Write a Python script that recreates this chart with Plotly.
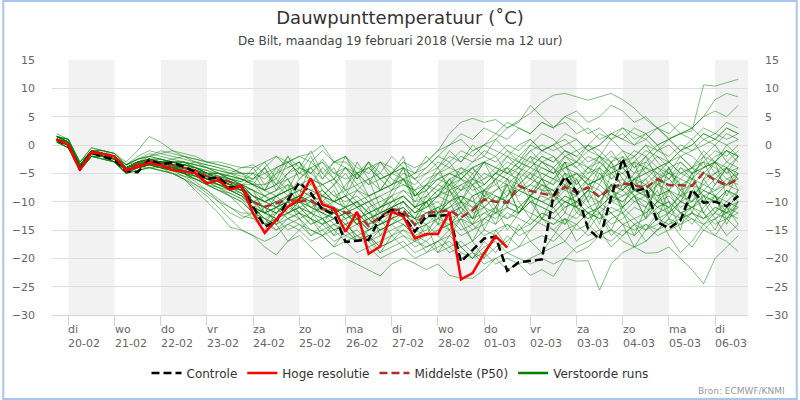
import plotly.graph_objects as go
import pandas as pd

# ---------------- data ----------------
start_time = "2018-02-19 18:00"
n_steps = 60
times = pd.date_range(start_time, periods=n_steps, freq="6h")

controle = [0.9, -0.1, -4.2, -1.3, -2.1, -2.6, -4.6, -4.8, -2.6, -3.4, -3.1, -3.8, -4.8, -6.0, -5.7, -7.5, -7.4,
            -11.0, -14.4, -13.5, -9.7, -6.6, -8.5, -11.4, -12.2, -17.1, -16.9, -16.7, -12.9, -11.4, -12.4,
            -15.3, -12.5, -12.5, -12.4, -20.6, -18.5, -16.5, -16.2, -22.2, -20.7, -20.5, -20.2,
            -9.0, -5.6, -8.2, -14.8, -16.6, -9.2, -2.4, -8.2, -7.6, -13.6, -14.7, -13.3, -7.9, -10.2, -10.0, -10.8, -9.0]

hoge_resolutie = [1.0, 0.0, -4.4, -1.3, -1.6, -2.0, -4.5, -3.8, -3.2, -3.6, -4.4, -4.7, -5.0, -6.8, -6.2, -7.9, -7.2,
                  -12.1, -15.5, -13.2, -10.9, -9.6, -5.9, -10.5, -11.2, -15.3, -11.8, -19.2, -17.9, -11.8, -12.6,
                  -16.5, -15.7, -15.7, -11.8, -23.7, -22.6, -19.1, -16.1, -18.1]

middelste = [1.0, 0.0, -4.2, -1.2, -1.5, -2.2, -4.3, -3.3, -2.8, -3.3, -3.6, -4.0, -4.5, -5.5, -5.8, -6.5, -7.5,
             -10.0, -10.9, -10.3, -9.6, -10.0, -9.7, -11.35, -11.5, -11.9, -12.1, -14.3, -12.6, -11.4, -11.5,
             -14.1, -12.0, -11.8, -11.5, -12.8, -11.5, -9.6, -10.0, -10.2, -7.2, -8.1, -8.5,
             -9.0, -7.4, -8.4, -7.5, -9.2, -7.6, -6.8, -7.1, -7.6, -6.0, -7.1, -7.1, -7.2, -4.9, -6.2, -7.1, -5.9]

verstoorde_runs = [
    [1.5,0.5,-3.5,-1,-1.5,-2,-4,-3,-2.5] + [-3,-3,-3.5,-4,-5,-5,-6,-7] + [-6,-4,-7,-3,-5,-2,-6,-4,-8,-3,-6,-5,-2,-4] + [-9,-8,-6,-5,-4,-5,-3,-4,-5,-3,-4,-2] + [-3,-1,-2,-4,-3,-5,-4,-6,-5,-4,-6,-3,-5,-4,-3,-5,-2],
    [1,0,-4,-1.5,-2,-2.5,-4.5,-4,-3.5] + [-4,-4.5,-5,-6,-7,-8,-9,-10] + [-12,-14,-13,-11,-10,-12,-13,-15,-14,-16,-17,-15,-14,-13] + [-15,-14,-16,-18,-17,-19,-20,-18,-17,-15,-14,-12] + [-13,-11,-10,-12,-11,-9,-10,-8,-9,-11,-10,-12,-11,-10,-13,-12,-11],
    [2,1,-3,-0.5,-1,-1.5,-3.5,-2.5,-2] + [-2.5,-3,-3,-3.5,-4,-5,-5.5,-6] + [-7,-8,-9,-8,-7,-8,-9,-10,-9,-8,-9,-8,-7,-6] + [-5,-3,-1,2,4,4.7,4,4.5,3,4.3,5.6,7.5] + [8.8,9.1,8.5,7.9,8.5,9.1,8,6.5,4.5,3,1.2,2,1,3,2,1,2],
    [1,0.5,-3.5,-1,-1.5,-2,-4,-3.5,-3] + [-3,-3.5,-4,-4.5,-5,-6,-6.5,-7] + [-9,-10,-9,-8,-7,-6,-7,-9,-10,-9,-11,-10,-9,-8] + [-9,-7,-6,-5,-6,-4,-3,-4,-2,-3,-1,0] + [-1,0,1,-1,0,2,1,0,2,3,1,2,2.5,10.6,10.4,11,11.6],
    [0.5,-0.5,-4.5,-2,-2.5,-3,-5,-4.5,-4] + [-4.5,-5,-6,-7.5,-9,-11,-13,-15] + [-16,-17,-16,-14,-15,-17,-16,-18,-17,-19,-18,-20,-19,-18] + [-20,-19,-18,-17,-19,-20,-18,-17,-19,-20,-21,-20] + [-21,-20,-20.5,-20.4,-25.6,-21,-19,-18,-17,-15,-14,-13,-12,-13,-11,-12,-10],
    [1,0,-4,-1.5,-1.5,-2.5,-4.5,-3.5,-3] + [-3.5,-4,-4.5,-5.5,-6.5,-7,-8,-9] + [-11,-12,-11,-10,-12,-13,-14,-13,-15,-14,-16,-15,-14,-16] + [-17,-16,-15,-14,-13,-15,-14,-12,-13,-11,-12,-13] + [-14,-13,-15,-14,-16,-15,-17,-18,-19.1,-19,-18,-20,-22,-24.5,-20,-18,-16],
    [1.5,0.5,-4,-1,-2,-2,-4,-3,-3] + [-3,-3.5,-4,-5,-6,-6,-7,-8] + [-10,-11,-12,-10,-9,-10,-11,-12,-11,-13,-12,-14,-13,-12] + [-13,-12,-11,-10,-9,-10,-8,-9,-10,-11,-9,-10] + [-9,-10,-11,-12,-13,-12,-14,-15,-14,-16,-15,-14,-13,-15,-16,-17,-18.8],
    [0.5,0,-4.5,-2,-2,-3,-5,-4,-4] + [-4,-5,-6,-8,-10,-12,-14.5,-15] + [-16,-18,-19.4,-17,-16,-18,-20,-19,-20,-21,-22,-23.1,-21,-20] + [-20.9,-22,-21,-23,-23.5,-23.5,-22,-20,-19,-18,-17,-16] + [-17,-15,-14,-16,-15,-13,-12,-14,-13,-11,-12,-10,-11,-9,-10,-8,-9],
    [1,0,-4,-1.5,-2,-2.5,-4.5,-4,-3.5] + [-3.5,-4,-5,-6,-7,-7.5,-8.5,-9.5] + [-11,-13,-14,-13,-12,-13,-15,-14,-16,-17,-16,-18,-17,-16] + [-18,-17,-19,-18,-20,-19,-21,-20,-22,-21,-23,-22] + [-23.2,-20,-18,-17,-16,-15,-16,-14,-15,-13,-14,-12,-13,-14,-12,-13,-11],
    [1.5,0.5,-3.5,-1,-1.5,-2,-4,-3,-2.5] + [-2.5,-3,-3,-3.5,-4,-4.5,-5,-5] + [-6,-5,-4,-3,-2,-1.5,0,-3,-4,-5,-4,-6,-5,-4] + [-5,-4,-2,-3,-1,-2,0,-1,-2,0,1,-1] + [0,-2,-1,-3,-2,-4,-3,-2,-5,-4,-3,-5,-4,-2,-3,-1,-2],
    [1,0,-4,-1,-2,-2.5,-4,-3.5,-3] + [-3.5,-3.5,-4,-4.5,-5.5,-6,-6.5,-7.5] + [-9,-11,-10,-9,-8,-9,-10,-11,-12,-11,-13,-12,-11,-10] + [-12,-11,-10,-12,-11,-9,-8,-10,-9,-7,-8,-6] + [-7,-3,-9,-6,-11,-5,-2,-8,-6,-10,-4,-7,-12,-6,-3,-9,-5],
    [1,0.5,-3.5,-1.5,-1.5,-2.5,-4.5,-3.5,-3] + [-3.5,-4,-4,-5,-6,-6.5,-7.5,-8] + [-10,-12,-11,-12,-10,-11,-12,-13,-12,-14,-13,-15,-14,-12] + [-14,-13,-12,-10,-9,-11,-10,-8,-7,-8,-6,-7] + [-8,-6,-5,-7,-6,-8,-7,-9,-8,-6,-7,-5,-6,-7,-5,-4,-6],
    [1.5,1,-3,-1,-1,-1.5,-3,-1,1.5] + [0.5,-1,-2,-2.5,-3,-3.5,-4,-5] + [-7,-8,-7,-6,-5,-6,-7,-6,-8,-7,-9,-8,-7,-5] + [-6,-4,-2,0,2,1,3,2,4,3,2,4] + [3,5,4,2,3,1,2,0,1,-1,0,-2,-1,0,1,3,2],
    [0.5,-0.5,-4.5,-2,-2.5,-3,-5,-4,-3.5] + [-4,-4.5,-5,-6,-7,-8,-9,-10] + [-12,-13,-14,-12,-11,-13,-14,-16,-15,-17,-16,-18,-17,-15] + [-16,-15,-13,-14,-12,-13,-11,-12,-10,-11,-9,-10] + [-11,-9,-10,-8,-9,-7,-8,-10,-9,-7,-8,-9,-7,-8,-6,-7,-5],
    [1,0,-4,-1,-1.5,-2,-4,-3.5,-3] + [-3,-3.5,-4,-4,-5,-5.5,-6,-6.5] + [-5,-8,-4,-6,-9,-3,-5,-7,-4,-6,-3,-8,-5,-6] + [-10,-9,-7,-8,-6,-7,-5,-6,-4,-5,-3,-4] + [-5,-3,-4,-2,-3,-5,-4,-3,-1,-2,-4,-3,-5,-4,-2,-1,-3],
    [1,0,-4,-1.5,-2,-2.5,-4.5,-3.5,-3] + [-3.5,-4,-4.5,-5,-6,-7,-7.5,-8.5] + [-10,-11,-10,-11,-9,-10,-11,-12,-11,-13,-12,-11,-10,-9] + [-11,-10,-9,-8,-7,-9,-8,-6,-7,-5,-6,-4] + [-5,-4,-3,-4,-2,-3,-1,-2,0,-1,1,2,3,5,8,9.1,8.5],
    [1.5,0.5,-3.5,-1,-1.5,-2,-3.5,-3,-2.5] + [-3,-3,-3.5,-4,-4.5,-5.5,-6,-7] + [-8,-9,-8,-7,-8,-9,-8,-10,-9,-11,-10,-9,-8,-7] + [-8,-7,-5,-4,-5,-3,-2,-3,-1,-2,0,-1] + [0,1,-1,0,2,1,3,2,1,3,2,4,3,5,6,5,7],
    [1,0,-4,-1,-1.5,-2.5,-4,-3.5,-3] + [-3,-3.5,-4,-4.5,-5,-6,-7,-7.5] + [-9,-10,-9,-8,-7,-8,-7,-9,-8,-10,-9,-8,-7,-6] + [-7,-5,-4,-2,-3,-1,0,1,3,4,7,5] + [3.2,4,2,3,1,2,3,1,2,0,1,-1,0,2,1,0,1],
    [0.5,0,-4.5,-1.5,-2,-3,-5,-4,-3.5] + [-4,-4,-5,-5.5,-6.5,-7.5,-8,-9] + [-11,-12,-13,-11,-12,-14,-13,-15,-14,-16,-15,-14,-13,-12] + [-13,-14,-12,-11,-10,-12,-11,-9,-10,-8,-9,-7] + [-8,-12,-6,-10,-14,-7,-11,-9,-13,-6,-10,-15,-8,-12,-9,-14,-10],
    [1,0.5,-4,-1,-2,-2,-4.5,-3.5,-3] + [-3,-3.5,-4,-5,-5.5,-6.5,-7,-8] + [-10,-12,-13,-12,-11,-12,-13,-12,-14,-13,-15,-14,-12,-11] + [-13,-9,-12,-7,-10,-13,-8,-6,-11,-5,-9,-7] + [-9,-7,-8,-6,-7,-9,-8,-6,-5,-7,-6,-8,-7,-5,-6,-4,-5],
    [1.5,0.5,-4,-1.5,-1.5,-2,-4,-3,-3] + [-3,-3,-3.5,-4,-5,-6,-6,-7] + [-8,-9,-10,-9,-8,-7,-9,-10,-11,-10,-12,-11,-10,-9] + [-11,-12,-11,-13,-12,-14,-13,-12,-11,-12,-10,-11] + [-12,-10,-11,-9,-10,-12,-11,-13,-12,-10,-11,-9,-10,-8,-9,-7,-8],
    [1,0,-4,-1.5,-2,-2.5,-4.5,-4,-3] + [-3.5,-4,-4.5,-5,-6,-7,-8,-8.5] + [-11,-13,-12,-10,-9,-11,-12,-14,-13,-12,-14,-13,-11,-10] + [-12,-10,-8,-7,-6,-8,-7,-5,-6,-4,-5,-3] + [-4,-6,-5,-7,-6,-4,-5,-3,-4,-6,-5,-7,-6,-4,-3,-5,-4],
    [1,0,-4,-1,-1.5,-2,-4,-3.5,-2.5] + [-3,-3.5,-3.5,-4,-5,-5.5,-6.5,-7] + [-9,-10,-11,-9,-10,-9,-8,-10,-11,-10,-12,-13,-12,-11] + [-13,-12,-14,-13,-15,-14,-16,-15,-14,-16,-15,-13] + [-14,-12,-13,-11,-12,-10,-11,-9,-10,-12,-11,-9,-8,-10,-9,-11,-10],
    [1.5,1,-3.5,-1,-1,-1.5,-3.5,-2.5,-2] + [-1.5,-1,-1.5,-2,-3,-3.5,-4,-5] + [-5,-3,-6,-2,-4,-1,-5,-3,-2,-6,-4,-3,-5,-2] + [-9,-7,-8,-6,-5,-7,-6,-4,-5,-3,-4,-2] + [-3,-1,-2,0,-1,-3,-2,-4,-3,-1,-2,0,-1,1,0,2,1],
    [0.5,-0.5,-4.5,-2,-2,-3,-4.5,-4,-3.5] + [-4,-4.5,-5,-6,-7,-8,-8.5,-9.5] + [-12,-14,-15,-13,-14,-15,-16,-14,-15,-17,-16,-19,-18,-17] + [-19,-18,-17,-16,-18,-17,-15,-16,-14,-15,-13,-14] + [-15,-13,-14,-12,-13,-11,-12,-10,-11,-13,-12,-10,-11,-9,-10,-8,-9],
    [1,0,-4,-1.5,-1.5,-2.5,-4,-3.5,-3] + [-3.5,-3.5,-4,-4.5,-5.5,-6,-7,-7.5] + [-9,-10,-11,-10,-9,-10,-9,-11,-12,-11,-13,-12,-11,-9] + [-11,-10,-8,-9,-7,-6,-8,-7,-5,-6,-4,-5] + [-6,-7,-5,-6,-4,-6,-5,-7,-6,-4,-5,-6,-4,-5,-3,-4,-2],
    [1,0.5,-3.5,-1.5,-2,-2,-4.5,-3.5,-3.5] + [-3.5,-4,-4.5,-5.5,-6,-7,-7.5,-8] + [-10,-11,-12,-11,-10,-11,-12,-11,-13,-12,-14,-13,-12,-11] + [-13,-10,-14,-8,-12,-9,-15,-11,-7,-12,-9,-6] + [-9,-11,-10,-8,-9,-7,-8,-6,-7,-9,-8,-10,-9,-7,-8,-6,-7],
    [1.5,0.5,-3.5,-1,-1.5,-2,-4,-3,-2.5] + [-2.5,-3,-3,-3.5,-4,-5,-5.5,-6] + [-7,-8,-7,-5,-4,-5,-3,-5,-6,-5,-7,-6,-5,-4] + [-6,-5,-3,-4,-2,-3,-1,-2,0,-1,1,-1] + [0,2,1,-1,0,2,1,3,2,0,1,-1,0,2,1,3,2],
    [1,0,-4.5,-1.5,-2,-3,-4.5,-4,-3.5] + [-4,-4,-5,-5.5,-6.5,-7,-8,-9] + [-11,-12,-11,-13,-12,-14,-13,-12,-14,-13,-15,-14,-13,-14] + [-15,-16,-14,-15,-13,-14,-12,-13,-11,-12,-10,-11] + [-12,-10,-11,-13,-12,-14,-13,-11,-12,-10,-11,-13,-12,-14,-13,-11,-12],
    [1,0,-4,-1,-2,-2.5,-4,-3.5,-3] + [-3,-3.5,-4,-4.5,-5.5,-6,-6.5,-7] + [-8,-10,-9,-8,-10,-9,-11,-10,-9,-11,-10,-12,-11,-10] + [-12,-10,-9,-7,-8,-6,-7,-5,-6,-8,-7,-5] + [-6,-4,-5,-7,-6,-5,-7,-6,-4,-5,-3,-5,-4,-6,-5,-3,-4],
    [1,0.5,-4,-1.5,-1.5,-2,-4,-3.5,-3] + [-3.5,-4,-4,-5,-6,-6,-7,-8] + [-10,-11,-12,-10,-11,-10,-12,-13,-12,-14,-13,-12,-11,-12] + [-14,-13,-11,-12,-10,-11,-9,-10,-8,-9,-7,-8] + [-9,-5,-11,-8,-4,-10,-7,-3,-9,-6,-12,-8,-5,-10,-7,-4,-8],
    [0.5,-0.5,-4.5,-2,-2.5,-3,-5,-4.5,-4] + [-4.5,-5,-6,-7,-8,-10,-12,-13] + [-12,-14,-13,-15,-14,-16,-15,-17,-16,-15,-17,-16,-15,-14] + [-16,-17,-15,-14,-16,-15,-13,-14,-12,-13,-14,-12] + [-13,-14,-12,-13,-11,-12,-14,-13,-15,-14,-12,-13,-11,-12,-14,-13,-12],
    [1.5,0.5,-3.5,-1,-1.5,-2,-4,-3,-2.5] + [-3,-3,-3.5,-4,-5,-5,-6,-6.5] + [-4,-7,-5,-2,-6,-4,-3,-6,-2,-5,-7,-3,-4,-6] + [-9,-8,-6,-7,-5,-4,-6,-5,-3,-4,-2,-3] + [-4,-2,-3,-5,-4,-2,-3,-1,-2,-4,-3,-2,-4,-3,-1,-2,0],
    [1,0,-4,-1.5,-2,-2.5,-4.5,-3.5,-3] + [-3.5,-4,-4.5,-5,-6,-6.5,-7.5,-8] + [-10,-11,-10,-12,-11,-12,-14,-13,-12,-14,-13,-15,-14,-13] + [-15,-14,-13,-12,-11,-13,-12,-11,-13,-12,-10,-9] + [-10,-8,-9,-7,-8,-10,-9,-8,-7,-9,-8,-6,-7,-9,-8,-7,-6],
    [1,0,-4,-1,-1.5,-2.5,-4,-3,-3] + [-3,-3.5,-4,-4.5,-5,-6,-7,-7] + [-7,-4,-8,-5,-3,-7,-4,-6,-9,-5,-3,-6,-8,-4] + [-11,-9,-7,-5,-6,-4,-3,-5,-4,-2,-3,-1] + [-2,-4,-3,-1,-2,-4,-3,-5,-4,-2,-3,-1,-2,-4,-3,-1,-2],
    [1.5,0.5,-4,-1.5,-1.5,-2,-4.5,-3.5,-3] + [-3.5,-3.5,-4.5,-5,-6,-7,-7.5,-8.5] + [-11,-12,-13,-12,-13,-12,-11,-13,-12,-13,-15,-14,-13,-12] + [-14,-10,-13,-8,-11,-14,-9,-12,-6,-10,-13,-8] + [-8,-10,-9,-11,-10,-8,-9,-7,-8,-10,-9,-11,-10,-8,-9,-10,-8],
    [1,0,-4.5,-2,-2,-3,-5,-4,-3.5] + [-4,-4.5,-5.5,-7,-8.5,-10,-11,-12] + [-12,-13,-15,-14,-13,-15,-16,-15,-17,-16,-18,-17,-16,-15] + [-17,-18,-17,-19,-18,-20,-19,-21,-20,-21,-20,-19] + [-18,-17,-19,-18,-16,-17,-15,-16,-14,-15,-13,-14,-12,-13,-11,-12,-13],
    [1,0.5,-3.5,-1,-1.5,-2,-4,-3.5,-3] + [-3,-3.5,-4,-4.5,-5.5,-6,-6.5,-7.5] + [-9,-10,-9,-11,-10,-8,-9,-10,-9,-11,-10,-9,-11,-10] + [-12,-11,-9,-10,-8,-7,-9,-8,-6,-7,-5,-6] + [-7,-5,-6,-4,-5,-7,-6,-8,-7,-5,-6,-4,-5,-3,-4,-6,-5],
    [1.5,1,-3,-0.5,-1,-1.5,-3.5,-2.5,-2] + [-1,-1.5,-2,-2.5,-3,-3,-3.5,-4] + [-4,-3,-2,-3,-2,-3,-1,-3,-3,-5,-4,-6,-5,-3] + [-4,-3,-1,0,1,-1,0,2,1,3,2,4] + [3,5,6,4,5,7,6,4,5,3,4,2,3,1,2,4,3],
    [1,0,-4,-1.5,-2,-2.5,-4,-3.5,-3] + [-3.5,-4,-4,-5,-5.5,-6.5,-7,-8] + [-10,-9,-11,-10,-9,-11,-10,-12,-11,-10,-12,-11,-10,-9] + [-11,-10,-12,-11,-9,-10,-11,-9,-10,-8,-9,-10] + [-11,-9,-10,-12,-11,-9,-10,-8,-9,-11,-10,-12,-11,-13,-12,-10,-11],
    [1,0.5,-3.5,-1,-1.5,-2,-3.5,-2,-1] + [-1.5,-2,-2.5,-3,-3.5,-4,-4.5,-5] + [-5,-6,-4,-3,-5,-4,-6,-3,-2,-4,-5,-3,-6,-7] + [-8,-6,-5,-7,-4,-6,-3,-2,-5,-4,-1,-3] + [-2,-5,-7,-4,-6,-3,-8,-5,-2,-6,-4,-9,-5,-3,-7,-4,-6],
    [1,0,-4,-1.5,-2,-2.5,-4,-3,-2.5] + [-3,-2.5,-3,-4,-4.5,-5,-5.5,-6] + [-6.5,-8,-5,-4,-3,-6,-9,-7,-5,-8,-6,-11,-9,-6] + [-8,-11,-9,-6,-10,-13,-8,-11,-7,-12,-9,-6] + [-10,-7,-12,-9,-5,-8,-11,-6,-9,-13,-8,-10,-6,-9,-12,-8,-10],
    [1.5,0.5,-4,-1,-1.5,-2.5,-4.5,-3.5,-3] + [-3,-3.5,-5,-6.5,-8,-9.5,-11,-12.5] + [-13,-15,-12,-10,-13,-16,-14,-11,-13,-17,-15,-13,-16,-18] + [-17,-14,-19,-16,-13,-17,-20,-15,-18,-14,-17,-19] + [-16,-13,-17,-15,-12,-16,-14,-18,-15,-12,-16,-19,-17,-14,-16,-13,-15],
    [1,0,-4,-1.5,-2,-2,-4,-3,-2] + [-2.5,-3,-3,-4,-5,-6,-5,-4] + [-3.5,-5,-7,-9,-6,-4,-8,-10,-7,-5,-9,-12,-8,-6] + [-9,-7,-4,-8,-10,-6,-3,-7,-9,-5,-2,-6] + [-4,-8,-6,-10,-7,-3,-6,-9,-11,-7,-4,-8,-10,-6,-9,-12,-8],
    [0.5,-0.5,-4,-2,-2,-3,-4.5,-4,-3.5] + [-4,-4,-4.5,-5,-6,-6.5,-7,-7.5] + [-8,-12,-9,-7,-11,-13,-10,-8,-12,-10,-14,-11,-9,-13] + [-11,-8,-12,-15,-10,-7,-11,-14,-9,-6,-10,-13] + [-9,-6,-11,-14,-10,-7,-12,-16,-11,-8,-13,-10,-7,-12,-15,-11,-14],
    [1,0,-4,-1,-1.5,-2,-4,-3,-3] + [-3,-3.5,-3.5,-3,-4,-4.5,-5,-6] + [-7,-7,-6,-8,-4,-5,-7,-6,-4,-7,-6,-8,-5,-3] + [-5,-2,-4,-1,-3,0,-2,1,-1,-3,0,2] + [1,-1,-3,0,-2,1,-1,-4,-2,0,-3,-1,1,-2,0,-3,-1],
    [1,0.5,-4,-1.5,-1.5,-2.5,-4.5,-4,-3.5] + [-4,-4.5,-5,-5.5,-6,-6.5,-8,-9] + [-10,-14,-11,-9,-12,-10,-13,-16,-12,-14,-11,-16,-13,-10] + [-13,-16,-12,-10,-14,-17,-13,-11,-15,-12,-9,-13] + [-11,-14,-10,-8,-12,-15,-11,-9,-13,-10,-8,-12,-14,-11,-9,-13,-10],
    [1.5,1,-3.5,-1,-1,-2,-3.5,-2.5,-1.5] + [-2,-2.5,-2,-3,-3.5,-4,-5,-5.5] + [-6,-4,-2,-4,-3,-5,-2.5,-5,-4,-6,-3,-5,-7,-4] + [-6,-8,-5,-3,-6,-4,-7,-5,-2,-4,-6,-3] + [-5,-2,-4,-6,-3,-1,-4,-2,0,-3,-5,-2,-4,-1,-3,0,-2],
    [1,0,-4.5,-2,-2.5,-3,-5,-4.5,-4] + [-4.5,-5,-5.5,-6,-6.5,-7.5,-9,-11] + [-13,-11,-14,-17,-15,-13,-16,-18,-15,-13,-17,-19,-16,-14] + [-16,-19,-17,-15,-18,-20,-17,-19,-16,-18,-15,-13] + [-15,-17,-14,-12,-15,-18,-16,-14,-17,-15,-13,-16,-18,-15,-13,-16,-14],
    [1.5,0.5,-3.5,-1.5,-2,-2,-4,-3.5,-2.5] + [-3,-3,-4,-4.5,-5,-5,-6,-6] + [-7,-9,-8,-6,-10,-12,-9,-7,-11,-8,-10,-13,-10,-8] + [-10,-7,-9,-6,-8,-5,-9,-6,-4,-7,-5,-8] + [-6,-3,-7,-5,-2,-6,-4,-7,-3,-5,-8,-4,-6,-2,-5,-7,-4],
]

tick_days = ["2018-02-20", "2018-02-21", "2018-02-22", "2018-02-23", "2018-02-24", "2018-02-25",
             "2018-02-26", "2018-02-27", "2018-02-28", "2018-03-01", "2018-03-02", "2018-03-03",
             "2018-03-04", "2018-03-05", "2018-03-06"]
tick_weekdays = ["di", "wo", "do", "vr", "za", "zo", "ma", "di", "wo", "do", "vr", "za", "zo", "ma", "di"]
tick_dates = ["20-02", "21-02", "22-02", "23-02", "24-02", "25-02", "26-02", "27-02", "28-02",
              "01-03", "02-03", "03-03", "04-03", "05-03", "06-03"]
shaded_days = ["2018-02-20", "2018-02-22", "2018-02-24", "2018-02-26", "2018-02-28",
               "2018-03-02", "2018-03-04", "2018-03-06"]

x_range = ["2018-02-19 15:30", "2018-03-06 17:05"]
y_range = [-30, 15]

FONT = "DejaVu Sans"
GREEN = "rgba(0,128,0,0.5)"

fig = go.Figure()

for run in verstoorde_runs:
    fig.add_trace(go.Scatter(x=times, y=run, mode="lines",
                             line=dict(color=GREEN, width=1),
                             showlegend=False, hoverinfo="skip"))

fig.add_trace(go.Scatter(x=times, y=middelste, mode="lines", name="Middelste (P50)",
                         line=dict(color="#a83232", width=2.5, dash="8px,4px"), legendrank=3))
fig.add_trace(go.Scatter(x=times, y=controle, mode="lines", name="Controle",
                         line=dict(color="black", width=2.5, dash="8px,4px"), legendrank=1))
fig.add_trace(go.Scatter(x=times[:len(hoge_resolutie)], y=hoge_resolutie, mode="lines",
                         name="Hoge resolutie", line=dict(color="#ff0000", width=2.5), legendrank=2))
# legend entry for the perturbed runs
fig.add_trace(go.Scatter(x=[times[0]], y=[None], mode="lines", name="Verstoorde runs",
                         line=dict(color="#008000", width=2.5), legendrank=4))
# right-hand axis carrier
fig.add_trace(go.Scatter(x=[times[0]], y=[None], yaxis="y2", mode="lines",
                         showlegend=False, hoverinfo="skip"))

shapes = []
for d in shaded_days:
    d0 = pd.Timestamp(d)
    shapes.append(dict(type="rect", xref="x", yref="paper", x0=d0, x1=d0 + pd.Timedelta(days=1),
                       y0=0, y1=1, fillcolor="#f2f2f2", line=dict(width=0), layer="below"))

# chart border
W, H = 800, 400
ml, mr, mt, mb = 50, 50, 60, 85
pw, ph = W - ml - mr, H - mt - mb
shapes.append(dict(type="rect", xref="paper", yref="paper",
                   x0=(1 - ml) / pw, x1=(W - 1 - ml) / pw,
                   y0=(H - mb - (H - 1)) / ph, y1=(H - mb - 1) / ph,
                   line=dict(color="#a9c7ea", width=2), fillcolor="rgba(0,0,0,0)", layer="above"))

annotations = []
for d, wd, dt in zip(tick_days, tick_weekdays, tick_dates):
    annotations.append(dict(x=d, xref="x", y=-0.022, yref="paper", xanchor="left", yanchor="top",
                            text=f"{wd}<br>{dt}", align="left", showarrow=False,
                            font=dict(family=FONT, size=11, color="#666666"), xshift=-2))

annotations.append(dict(x=0.5, xref="paper", y=(H - mb - 41) / ph, yref="paper",
                        text="De Bilt, maandag 19 februari 2018 (Versie ma 12 uur)",
                        showarrow=False, xanchor="center", yanchor="middle",
                        font=dict(family=FONT, size=12, color="#444444")))
annotations.append(dict(x=(789 - ml) / pw, xref="paper", y=(H - mb - 391) / ph, yref="paper",
                        text="Bron: ECMWF/KNMI", showarrow=False, xanchor="right", yanchor="middle",
                        font=dict(family=FONT, size=9, color="#999999")))

yax_common = dict(range=y_range, tickmode="linear", tick0=0, dtick=5, zeroline=False,
                  tickfont=dict(family=FONT, size=11, color="#666666"), fixedrange=True,
                  ticklabelstandoff=16)

fig.update_layout(
    width=W, height=H,
    margin=dict(l=ml, r=mr, t=mt, b=mb),
    paper_bgcolor="white", plot_bgcolor="white",
    font=dict(family=FONT, color="#333333"),
    title=dict(text="Dauwpunttemperatuur (˚C)", x=0.5, xanchor="center",
               y=1 - 18 / H, yref="container", yanchor="middle",
               font=dict(family=FONT, size=18, color="#333333")),
    xaxis=dict(type="date", range=x_range, showgrid=False, zeroline=False,
               tickmode="array", tickvals=tick_days, showticklabels=False,
               ticks="outside", ticklen=10, tickcolor="#ccd6eb", tickwidth=1,
               showline=True, linecolor="#ccd6eb", linewidth=1, fixedrange=True),
    yaxis=dict(**yax_common, gridcolor="#dedede", gridwidth=1, showline=False),
    yaxis2=dict(**yax_common, overlaying="y", side="right", showgrid=False, showline=False),
    legend=dict(orientation="h", x=0.5, xanchor="center", y=(H - mb - 373) / ph, yanchor="middle",
                font=dict(family=FONT, size=12, color="#333333"), traceorder="normal",
                itemwidth=30, bgcolor="rgba(0,0,0,0)"),
    shapes=shapes,
    annotations=annotations,
    showlegend=True,
)

fig.write_html("out.html", config={"displayModeBar": False},
               post_script="document.body.style.margin='0';document.body.style.padding='0';")
